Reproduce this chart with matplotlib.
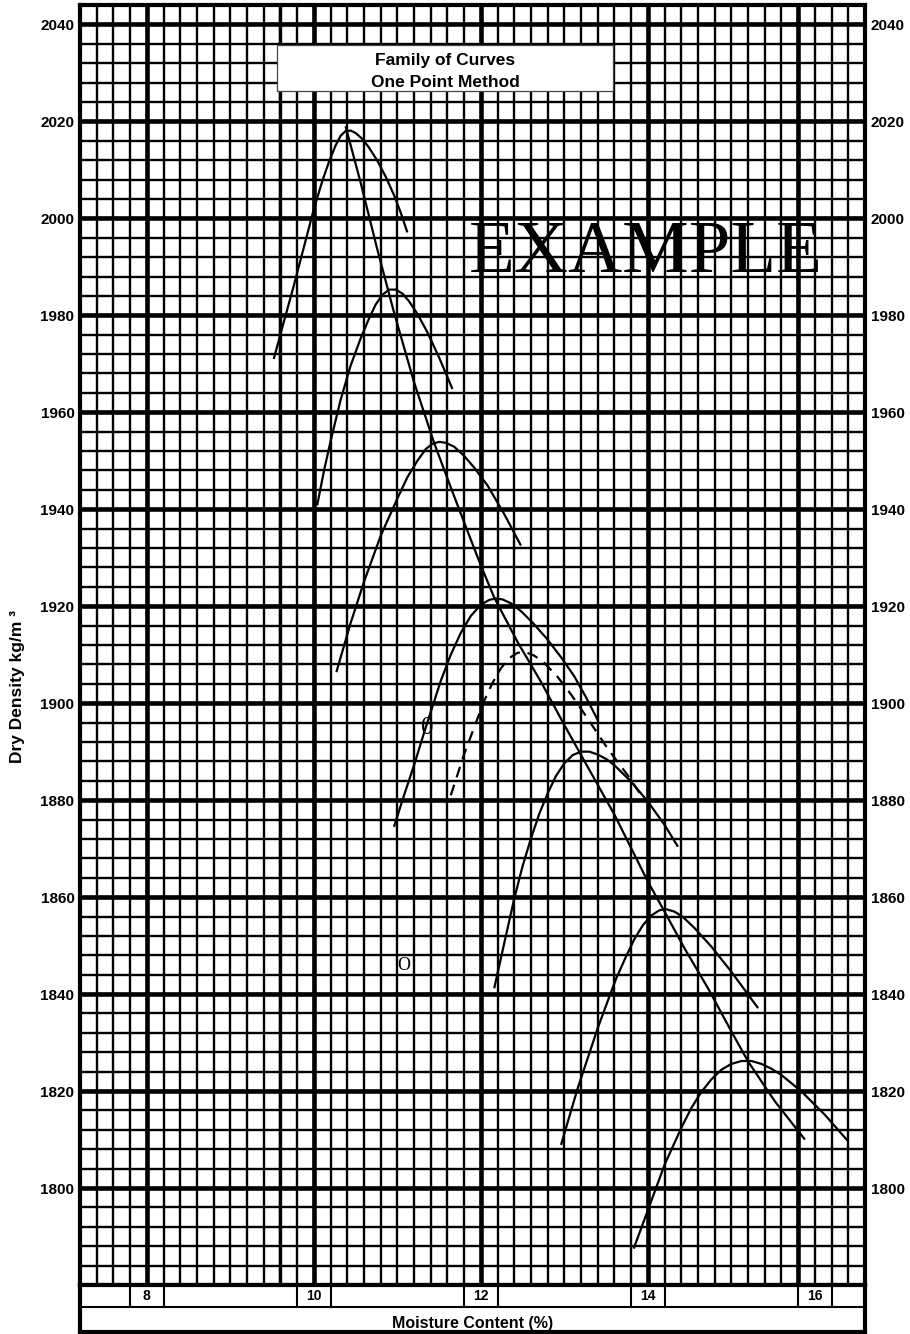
import numpy as np
import matplotlib
matplotlib.use("Agg")
import matplotlib.pyplot as plt
from matplotlib.patches import Rectangle

plt.rcParams["font.family"] = ["Liberation Sans", "DejaVu Sans"]

# axis labels
density_ticks = [1800, 1820, 1840, 1860, 1880, 1900, 1920, 1940, 1960, 1980, 2000, 2020, 2040]
moisture_ticks = [8, 10, 12, 14, 16]

# compaction curves (moisture %, dry density kg/m3)
c1_x = [9.52, 9.64, 9.76, 9.88, 10.00, 10.10, 10.18, 10.26, 10.32, 10.38, 10.44, 10.50, 10.58, 10.66,
        10.76, 10.86, 10.96, 11.04, 11.12]
c1_y = [1971.0, 1978.6, 1986.1, 1994.0, 2001.9, 2007.6, 2011.6, 2015.0, 2017.0, 2018.0, 2018.1, 2017.6,
        2016.4, 2014.6, 2011.9, 2008.6, 2004.8, 2001.2, 1997.1]

c2_x = [10.04, 10.12, 10.20, 10.32, 10.44, 10.56, 10.66, 10.74, 10.82, 10.90, 10.98, 11.06, 11.14, 11.24,
        11.36, 11.50, 11.66]
c2_y = [1940.8, 1947.8, 1954.0, 1962.5, 1969.6, 1975.2, 1979.3, 1982.2, 1984.2, 1985.3, 1985.3, 1984.5,
        1982.9, 1980.3, 1976.5, 1971.3, 1964.8]

c3_x = [10.27, 10.44, 10.60, 10.80, 11.00, 11.12, 11.24, 11.34, 11.42, 11.50, 11.58, 11.68, 11.80, 11.92,
        12.08, 12.28, 12.48]
c3_y = [1906.4, 1916.5, 1925.0, 1934.5, 1942.2, 1946.6, 1950.0, 1952.4, 1953.5, 1953.9, 1953.7, 1952.9,
        1951.0, 1948.6, 1944.9, 1939.0, 1932.5]

c4_x = [10.96, 11.08, 11.20, 11.34, 11.52, 11.64, 11.76, 11.88, 12.00, 12.10, 12.18, 12.26, 12.36, 12.48,
        12.62, 12.78, 12.96, 13.12, 13.26, 13.40]
c4_y = [1874.5, 1881.0, 1887.2, 1895.0, 1904.6, 1910.0, 1914.5, 1918.0, 1920.3, 1921.3, 1921.6, 1921.4,
        1920.6, 1919.0, 1916.6, 1913.5, 1909.5, 1905.5, 1901.2, 1896.5]

c5_x = [12.16, 12.28, 12.40, 12.50, 12.60, 12.70, 12.80, 12.90, 13.00, 13.10, 13.20, 13.30, 13.40, 13.50,
        13.60, 13.80, 14.00, 14.20, 14.36]
c5_y = [1841.2, 1850.5, 1859.7, 1866.4, 1872.1, 1877.2, 1881.4, 1885.0, 1887.6, 1889.3, 1890.0, 1890.0,
        1889.4, 1888.5, 1887.2, 1883.8, 1879.7, 1874.9, 1870.4]

c6_x = [12.96, 13.16, 13.40, 13.52, 13.62, 13.74, 13.84, 13.94, 14.04, 14.14, 14.22, 14.32, 14.42, 14.56,
        14.76, 15.00, 15.32]
c6_y = [1808.9, 1820.6, 1833.0, 1838.6, 1843.2, 1847.8, 1851.4, 1854.2, 1856.2, 1857.3, 1857.5, 1857.0,
        1855.9, 1853.6, 1849.8, 1844.6, 1837.1]

c7_x = [13.83, 14.04, 14.20, 14.40, 14.52, 14.64, 14.76, 14.88, 15.00, 15.12, 15.24, 15.36, 15.48, 15.60,
        15.84, 16.12, 16.40]
c7_y = [1787.5, 1797.3, 1804.8, 1812.4, 1816.5, 1819.8, 1822.4, 1824.4, 1825.6, 1826.2, 1826.2, 1825.6,
        1824.6, 1823.3, 1819.9, 1815.1, 1809.6]

# line of optimums through the peaks
opt_x = [10.38, 10.56, 10.76, 10.96, 11.20, 11.44, 11.64, 11.84, 12.00, 12.16, 12.44, 12.72, 13.00, 13.20,
         13.60, 14.00, 14.20, 14.44, 14.72, 15.00, 15.20, 15.52, 15.88]
opt_y = [2019.0, 2007.4, 1993.6, 1980.6, 1966.2, 1953.7, 1944.5, 1935.5, 1928.4, 1921.8, 1912.6, 1904.4,
         1895.5, 1889.3, 1877.0, 1863.2, 1857.0, 1849.4, 1841.2, 1832.3, 1826.1, 1817.9, 1810.0]

# interpolated curve (dashed)
dash_x = [11.64, 11.80, 11.92, 12.04, 12.14, 12.24, 12.34, 12.44, 12.54, 12.64, 12.76, 12.92, 13.08, 13.28,
          13.52, 13.76, 13.92]
dash_y = [1881.0, 1889.5, 1895.0, 1900.5, 1904.2, 1907.2, 1909.3, 1910.4, 1910.5, 1909.8, 1908.3, 1905.4,
          1901.8, 1896.8, 1890.6, 1885.1, 1881.0]

# test points marked on the chart
points = [("0", 11.36, 1894.8, 18), ("O", 11.08, 1846.0, 13)]

fig = plt.figure(figsize=(9.1, 13.34), dpi=100)
ax = fig.add_axes([80 / 910, 49 / 1334, 785 / 910, 1280 / 1334])
axb = fig.add_axes([80 / 910, 2 / 1334, 785 / 910, 47 / 1334])

x_lo, x_hi = 7.2, 16.6
y_lo, y_hi = 1780, 2044

# graph paper
minor_x = np.arange(7.4, 16.5, 0.2)
minor_y = np.arange(1784, 2044, 4)
major_x = [8, 10, 12, 14, 15.8]
major_y = np.arange(1800, 2041, 20)
ax.vlines(minor_x, y_lo, y_hi, color="black", lw=1.7, zorder=1)
ax.hlines(minor_y, x_lo, x_hi, color="black", lw=1.7, zorder=1)
ax.vlines([9.6], y_lo, y_hi, color="black", lw=2.4, zorder=1)
ax.vlines(major_x, y_lo, y_hi, color="black", lw=3.3, zorder=1)
ax.hlines(major_y, x_lo, x_hi, color="black", lw=3.3, zorder=1)

for cx, cy in [(c1_x, c1_y), (c2_x, c2_y), (c3_x, c3_y), (c4_x, c4_y), (c5_x, c5_y),
               (c6_x, c6_y), (c7_x, c7_y), (opt_x, opt_y)]:
    ax.plot(cx, cy, color="black", lw=1.6, solid_capstyle="butt", solid_joinstyle="round", zorder=3)
ax.plot(dash_x, dash_y, color="black", lw=1.6, ls=(0, (5, 3.5)), zorder=3)

for txt, px, py, fs in points:
    ax.text(px, py, txt, fontsize=fs, family="Liberation Serif", ha="center", va="center", zorder=4)

ax.text(13.976, 1988.9, "EXAMPLE", fontsize=54, family="Liberation Serif", ha="center",
        va="baseline", zorder=4)

# title box
ax.add_patch(Rectangle((0.251, 0.9328), 0.428, 0.0360, transform=ax.transAxes, facecolor="white",
                       edgecolor="#444444", lw=0.9, zorder=5))
ax.text(0.465, 0.957, "Family of Curves", transform=ax.transAxes, ha="center", va="center",
        fontsize=12.5, fontweight="bold", zorder=6)
ax.text(0.465, 0.9395, "One Point Method", transform=ax.transAxes, ha="center", va="center",
        fontsize=12.5, fontweight="bold", zorder=6)

ax.set_xlim(x_lo, x_hi)
ax.set_ylim(y_lo, y_hi)
ax.set_xticks([])
ax.set_yticks(density_ticks)
ax.set_yticklabels([str(v) for v in density_ticks], fontsize=11, fontweight="bold")
ax.tick_params(axis="y", length=0, pad=4, labelright=True)
for s in ax.spines.values():
    s.set_linewidth(3)

# label strip under the grid
axb.set_xlim(x_lo, x_hi)
axb.set_ylim(0, 1)
axb.set_xticks([])
axb.set_yticks([])
div = 25 / 47
axb.axhline(div, color="black", lw=1.5)
for t in moisture_ticks:
    axb.vlines([t - 0.2, t + 0.2], div, 1, color="black", lw=1.5)
    axb.text(t, 0.76, str(t), ha="center", va="center", fontsize=10, fontweight="bold")
axb.text(0.5, 0.09, "Moisture Content (%)", transform=axb.transAxes, ha="center", va="baseline",
         fontsize=11.5, fontweight="bold")
for s in axb.spines.values():
    s.set_linewidth(3)

fig.text(18 / 910, 1 - 687 / 1334, "Dry Density kg/m \u00b3", rotation=90, ha="center", va="center",
         fontsize=12.5, fontweight="bold")

fig.savefig("out.png", dpi=100)
